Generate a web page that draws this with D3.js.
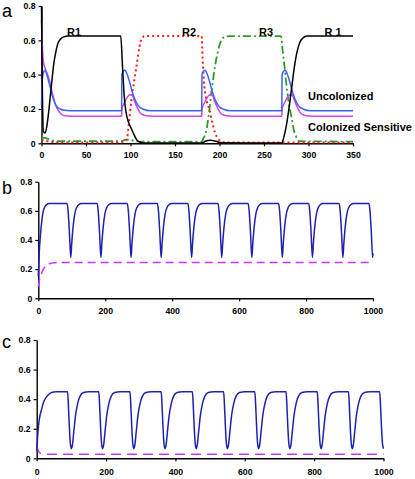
<!DOCTYPE html>
<html><head><meta charset="utf-8">
<script src="https://cdn.jsdelivr.net/npm/d3@7"></script>
<style>body{margin:0;background:#fff}svg{display:block}text{font-family:"Liberation Sans",Arial,sans-serif}</style>
</head><body><svg id="c" width="415" height="479"></svg>
<script>
// ---------- Panel a data ----------
const aXTicks = [0,50,100,150,200,250,300,350];
const aYTicks = [0,0.2,0.4,0.6,0.8];
const aR1 = [[0,0.8],[1,0.3],[2,0.07],[4,0.06],[6,0.1],[8,0.18],[10,0.28],[12,0.38],[14,0.47],[16,0.53],[18,0.575],[21,0.605],[25,0.62],[30,0.625],[89,0.625],[91,0.45],[93,0.27],[95,0.18],[98,0.12],[101,0.085],[104,0.05],[107,0.02],[111,0.006],[116,0.002],[180,0.002],[184,0.012],[190,0.018],[196,0.012],[202,0.003],[270,0.002],[272,0.03],[275,0.1],[278,0.2],[281,0.32],[284,0.44],[287,0.53],[290,0.585],[294,0.615],[298,0.625],[350,0.625]];
const aR2 = [[0,0.02],[10,0.01],[20,0.005],[90,0.005],[93,0.01],[96,0.025],[98,0.11],[101,0.25],[104,0.36],[107,0.46],[110,0.56],[113,0.615],[117,0.625],[180,0.625],[181,0.5],[183,0.33],[186,0.24],[189,0.19],[192,0.12],[195,0.06],[198,0.03],[202,0.01],[210,0.005],[350,0.005]];
const aR3 = [[0,0.035],[5,0.03],[10,0.02],[20,0.012],[90,0.012],[94,0.02],[99,0.022],[103,0.015],[110,0.01],[180,0.01],[182,0.03],[185,0.07],[187,0.13],[189,0.21],[192,0.34],[195,0.45],[198,0.53],[202,0.6],[206,0.62],[211,0.625],[269,0.625],[271,0.54],[273,0.45],[275,0.35],[278,0.23],[281,0.15],[283,0.09],[286,0.04],[290,0.012],[350,0.01]];
const aUncol = [[0,0.22],[1,0.38],[2.5,0.415],[4,0.425],[6,0.4],[9.6,0.33],[12,0.28],[15,0.235],[18,0.21],[21,0.2],[26,0.192],[32,0.19],[90,0.19],[90.3,0.4],[92,0.42],[94,0.425],[96,0.405],[99.4,0.35],[102,0.3],[105,0.255],[108,0.225],[111,0.208],[115,0.197],[122,0.19],[180,0.19],[180.3,0.4],[182,0.42],[184,0.425],[186,0.405],[189.4,0.35],[192,0.3],[195,0.255],[198,0.225],[201,0.208],[205,0.197],[212,0.19],[270,0.19],[270.3,0.4],[272,0.42],[274,0.425],[276,0.405],[279.4,0.35],[282,0.3],[285,0.255],[288,0.225],[291,0.208],[295,0.197],[302,0.19],[350,0.19]];
const aColSens = [[0,0.72],[1,0.56],[2,0.48],[4.5,0.43],[7.6,0.39],[10.5,0.33],[13.3,0.27],[16,0.22],[19,0.19],[22.7,0.167],[27,0.16],[32,0.158],[90,0.158],[90.4,0.2],[93,0.235],[96,0.265],[99,0.283],[102,0.28],[104.5,0.245],[107,0.215],[110,0.185],[113,0.168],[118,0.16],[124,0.158],[180,0.158],[180.4,0.2],[183,0.235],[186,0.265],[189,0.283],[192,0.28],[194.5,0.245],[197,0.215],[200,0.185],[203,0.168],[208,0.16],[214,0.158],[270,0.158],[270.4,0.2],[273,0.235],[276,0.265],[279,0.283],[282,0.28],[284.5,0.245],[287,0.215],[290,0.185],[293,0.168],[298,0.16],[304,0.158],[350,0.158]];
const aLabels = [["R1",74],["R2",189],["R3",266],["R 1",333]];

// ---------- Panel b data ----------
const bXTicks = [0,200,400,600,800,1000];
const bYTicks = [0,0.2,0.4,0.6,0.8];
const bBlue = [[0,0.15],[3,0.32],[7,0.45],[11,0.54],[15,0.6],[20,0.63],[26,0.645],[32,0.65],
 [86,0.65],[89,0.6],[93,0.45],[97,0.28],[100,0.38],[104,0.49],[109,0.58],[115,0.625],[122,0.645],[128,0.65],
 [176,0.65],[179,0.6],[183,0.45],[187,0.28],[190,0.38],[194,0.49],[199,0.58],[205,0.625],[212,0.645],[218,0.65],
 [266,0.65],[269,0.6],[273,0.45],[277,0.28],[280,0.38],[284,0.49],[289,0.58],[295,0.625],[302,0.645],[308,0.65],
 [356,0.65],[359,0.6],[363,0.45],[367,0.28],[370,0.38],[374,0.49],[379,0.58],[385,0.625],[392,0.645],[398,0.65],
 [447,0.65],[450,0.6],[454,0.45],[458,0.28],[461,0.38],[465,0.49],[470,0.58],[476,0.625],[483,0.645],[489,0.65],
 [537,0.65],[540,0.6],[544,0.45],[548,0.28],[551,0.38],[555,0.49],[560,0.58],[566,0.625],[573,0.645],[579,0.65],
 [627,0.65],[630,0.6],[634,0.45],[638,0.28],[641,0.38],[645,0.49],[650,0.58],[656,0.625],[663,0.645],[669,0.65],
 [718,0.65],[721,0.6],[725,0.45],[729,0.28],[732,0.38],[736,0.49],[741,0.58],[747,0.625],[754,0.645],[760,0.65],
 [808,0.65],[811,0.6],[815,0.45],[819,0.28],[822,0.38],[826,0.49],[831,0.58],[837,0.625],[844,0.645],[850,0.65],
 [899,0.65],[902,0.6],[906,0.45],[910,0.28],[913,0.38],[917,0.49],[922,0.58],[928,0.625],[935,0.645],[941,0.65],
 [988,0.65],[991,0.6],[995,0.45],[999,0.28],[1000,0.31]];
const bMagenta = [[0,0.08],[3,0.12],[8,0.16],[13,0.19],[18,0.21],[25,0.228],[33,0.237],[45,0.243],[60,0.246],[1000,0.246]];

// ---------- Panel c data ----------
const cXTicks = [0,200,400,600,800,1000];
const cYTicks = [0,0.2,0.4,0.6,0.8];
const cBlue = [[0,0.05],[2,0.12],[4,0.19],[8,0.27],[14,0.33],[20,0.38],[28,0.415],[36,0.435],[45,0.447],[55,0.45],
 [89,0.45],[91,0.38],[94,0.22],[97,0.1],[100,0.065],[103,0.09],[107,0.18],[112,0.29],[118,0.37],[125,0.42],[135,0.445],[150,0.45],
 [179,0.45],[181,0.38],[184,0.22],[187,0.1],[190,0.065],[193,0.09],[197,0.18],[202,0.29],[208,0.37],[215,0.42],[225,0.445],[240,0.45],
 [269,0.45],[271,0.38],[274,0.22],[277,0.1],[280,0.065],[283,0.09],[287,0.18],[292,0.29],[298,0.37],[305,0.42],[315,0.445],[330,0.45],
 [359,0.45],[361,0.38],[364,0.22],[367,0.1],[370,0.065],[373,0.09],[377,0.18],[382,0.29],[388,0.37],[395,0.42],[405,0.445],[420,0.45],
 [449,0.45],[451,0.38],[454,0.22],[457,0.1],[460,0.065],[463,0.09],[467,0.18],[472,0.29],[478,0.37],[485,0.42],[495,0.445],[510,0.45],
 [539,0.45],[541,0.38],[544,0.22],[547,0.1],[550,0.065],[553,0.09],[557,0.18],[562,0.29],[568,0.37],[575,0.42],[585,0.445],[600,0.45],
 [629,0.45],[631,0.38],[634,0.22],[637,0.1],[640,0.065],[643,0.09],[647,0.18],[652,0.29],[658,0.37],[665,0.42],[675,0.445],[690,0.45],
 [719,0.45],[721,0.38],[724,0.22],[727,0.1],[730,0.065],[733,0.09],[737,0.18],[742,0.29],[748,0.37],[755,0.42],[765,0.445],[780,0.45],
 [809,0.45],[811,0.38],[814,0.22],[817,0.1],[820,0.065],[823,0.09],[827,0.18],[832,0.29],[838,0.37],[845,0.42],[855,0.445],[870,0.45],
 [899,0.45],[901,0.38],[904,0.22],[907,0.1],[910,0.065],[913,0.09],[917,0.18],[922,0.29],[928,0.37],[935,0.42],[945,0.445],[960,0.45],
 [989,0.45],[991,0.38],[994,0.22],[997,0.1],[1000,0.065]];
const cMagenta = [[0,0.09],[3,0.06],[6,0.045],[10,0.035],[16,0.03],[25,0.028],[1000,0.028]];

// ---------- drawing ----------
const svg = d3.select("#c");
const fmt = d => d === 0 ? "0" : d3.format(".1f")(d);

function panel(o){
  const g = svg.append("g");
  const x = d3.scaleLinear().domain(o.xd).range(o.xr);
  const y = d3.scaleLinear().domain([0,0.8]).range(o.yr);
  const xa = g.append("g").attr("transform",`translate(0,${o.yr[0]})`)
    .call(d3.axisBottom(x).tickValues(o.xt).tickSize(3).tickSizeOuter(0).tickPadding(o.xpad).tickFormat(d=>d));
  const ya = g.append("g").attr("transform",`translate(${o.xr[0]},0)`)
    .call(d3.axisLeft(y).tickValues(o.yt).tickSize(3).tickSizeOuter(0).tickPadding(3).tickFormat(fmt));
  [xa,ya].forEach(a=>{
    a.select(".domain").attr("stroke","#000").attr("stroke-width",1.4);
    a.selectAll(".tick line").attr("stroke","#000").attr("stroke-width",1.2);
    a.selectAll("text").attr("font-size","8.7px").attr("font-weight","bold").attr("fill","#000")
      .style("font-family","'Liberation Sans',Arial,sans-serif");
  });
  const line = d3.line().x(d=>x(d[0])).y(d=>y(d[1])).curve(d3.curveMonotoneX);
  o.series.forEach(s=>{
    g.append("path").datum(s.data).attr("d",line).attr("fill","none")
      .attr("stroke",s.color).attr("stroke-width",s.w||1.5)
      .attr("stroke-dasharray",s.dash||null).attr("stroke-linejoin","round");
  });
  g.append("text").attr("x",2).attr("y",o.lab[1]).attr("font-size","18px").text(o.lab[0]);
  return {g,x,y};
}

const pa = panel({xd:[0,350],xr:[41.5,353],yr:[143.3,6],xt:aXTicks,yt:aYTicks,xpad:6,lab:["a",17],
  series:[
    {data:aR3,color:"#2e9a2e",dash:"8,3,2,3",w:1.8},
    {data:aR2,color:"#ff1a1a",dash:"2,3",w:2},
    {data:aColSens,color:"#cc44ee"},
    {data:aUncol,color:"#3a62ff"},
    {data:aR1,color:"#000"}
  ]});
aLabels.forEach(([t,xv])=>{
  pa.g.append("text").attr("x",xv).attr("y",36).attr("text-anchor","middle")
    .attr("font-size","11px").attr("font-weight","bold").text(t);
});
pa.g.append("text").attr("x",308).attr("y",100).attr("font-size","11px").attr("font-weight","bold").text("Uncolonized");
pa.g.append("text").attr("x",308).attr("y",131).attr("font-size","11px").attr("font-weight","bold").text("Colonized Sensitive");

panel({xd:[0,1000],xr:[38.3,373],yr:[298.3,181.7],xt:bXTicks,yt:bYTicks,xpad:7,lab:["b",194],
  series:[
    {data:bMagenta,color:"#cc33ff",dash:"8,5"},
    {data:bBlue,color:"#2020b0"}
  ]});

panel({xd:[0,1000],xr:[36.7,383.5],yr:[458.3,340],xt:cXTicks,yt:cYTicks,xpad:8,lab:["c",348],
  series:[
    {data:cMagenta,color:"#cc33ff",dash:"10,6"},
    {data:cBlue,color:"#2020b0"}
  ]});
</script></body></html>
